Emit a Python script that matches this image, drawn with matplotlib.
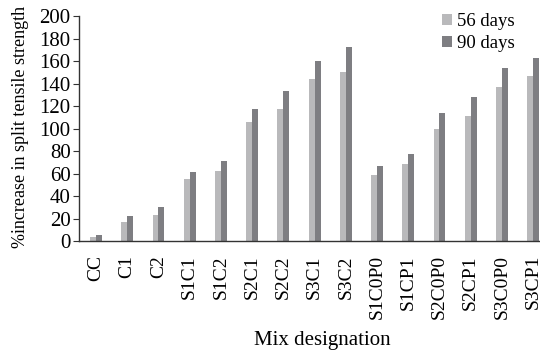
import matplotlib.pyplot as plt
import numpy as np

# Datos
mixes = ["CC", "C1", "C2", "S1C1", "S1C2", "S2C1", "S2C2", "S3C1", "S3C2",
         "S1C0P0", "S1CP1", "S2C0P0", "S2CP1", "S3C0P0", "S3CP1"]
days_56 = [4, 17, 23, 55.5, 62.5, 106, 118, 144, 151, 59, 68.5, 100, 111.5, 137.5, 147]
days_90 = [5.5, 22, 30, 61.5, 71.5, 118, 133.5, 160.5, 173, 66.5, 77.5, 114, 128.5, 154.5, 163]

plt.rcParams['font.family'] = ['Liberation Serif', 'DejaVu Serif']

fig = plt.figure(figsize=(5.4, 3.5), dpi=100)
ax = fig.add_axes([0.146, 0.311, 0.854, 0.642])

x = np.arange(len(mixes))
w = 0.19
ax.bar(x - w / 2, days_56, width=w, color="#b9b9bb", label="56 days")
ax.bar(x + w / 2, days_90, width=w, color="#7e7e82", label="90 days")

ax.set_xlim(-0.55, 14.22)
ax.set_ylim(0, 200)
ax.set_yticks(range(0, 201, 20))
ax.set_xticks(x)
ax.set_xticklabels(mixes, rotation=90, fontsize=14)
ax.tick_params(axis='y', labelsize=15, length=4, width=0.8, color="#333333", pad=2)
ax.tick_params(axis='x', length=0, pad=10)

for s in ["top", "right"]:
    ax.spines[s].set_visible(False)
for s in ["left", "bottom"]:
    ax.spines[s].set_color("#333333")
    ax.spines[s].set_linewidth(1.0)

ax.set_ylabel("%increase in split tensile strength", fontsize=13)
ax.yaxis.set_label_coords(-0.108, 0.51)
ax.set_xlabel("Mix designation", fontsize=15)
ax.xaxis.set_label_coords(0.529, -0.40)

ax.legend(loc="upper right", bbox_to_anchor=(0.97, 1.065), frameon=False, fontsize=13.5,
          handlelength=0.55, handleheight=0.55, handletextpad=0.25, labelspacing=0.25,
          borderaxespad=0.2)

fig.savefig("out.png", dpi=100)
